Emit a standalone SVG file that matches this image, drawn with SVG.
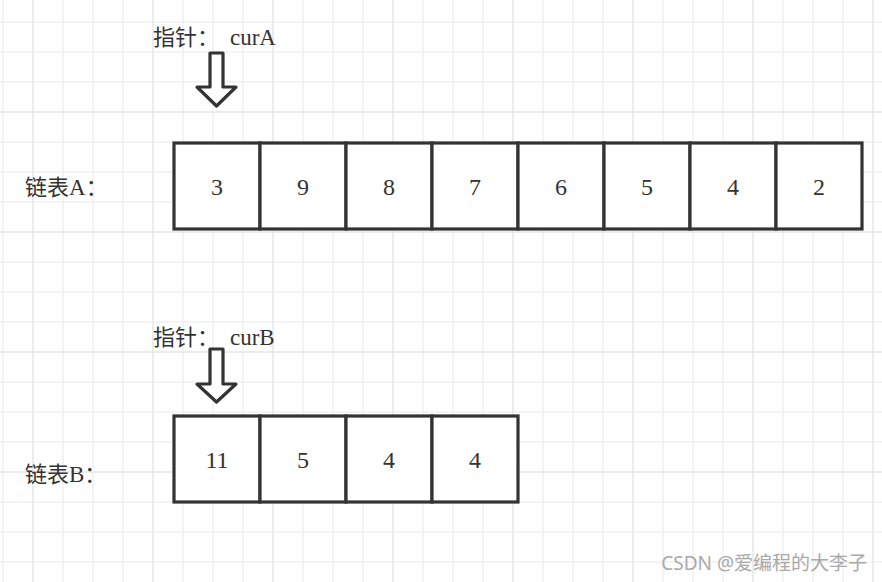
<svg xmlns="http://www.w3.org/2000/svg" width="882" height="582" viewBox="0 0 882 582">
<defs>
<style>
.minor{stroke:#f1f1f1;stroke-width:1.5;fill:none}
.major{stroke:#e6e6e6;stroke-width:1.5;fill:none}
.cell{fill:#ffffff;stroke:#333333;stroke-width:3.2;stroke-linejoin:miter}
.num{font-family:"Liberation Serif","Noto Sans CJK SC",serif;font-size:24px;fill:#333333;text-anchor:middle}
.lbl{font-family:"Liberation Serif","Noto Sans CJK SC",serif;font-size:22px;fill:#333333}
.lat{font-size:23px}
.arrow{fill:#ffffff;stroke:#333333;stroke-width:3.2;stroke-linejoin:round}
.wm{font-family:"Noto Sans","Noto Sans CJK SC",sans-serif;font-size:19px;fill:#a9a9a9;text-anchor:end}
</style>
</defs>
<rect x="0" y="0" width="882" height="582" fill="#ffffff"/>
<g id="grid">
<path class="minor" d="M3,0V582M63,0V582M93,0V582M123,0V582M183,0V582M213,0V582M243,0V582M303,0V582M333,0V582M363,0V582M423,0V582M453,0V582M483,0V582M543,0V582M573,0V582M603,0V582M663,0V582M693,0V582M723,0V582M783,0V582M813,0V582M843,0V582M0,22H882M0,52H882M0,82H882M0,142H882M0,172H882M0,202H882M0,262H882M0,292H882M0,322H882M0,382H882M0,412H882M0,442H882M0,502H882M0,532H882M0,562H882"/>
<path class="major" d="M33,0V582M153,0V582M273,0V582M393,0V582M513,0V582M633,0V582M753,0V582M873,0V582M0,112H882M0,232H882M0,352H882M0,472H882"/>
</g>
<g id="labelA"><text class="lbl" x="25" y="195">链表<tspan class="lat">A</tspan>：</text></g>
<g id="listA">
<g id="a0"><rect class="cell" x="174" y="143" width="86" height="86"/><text class="num" x="217" y="195">3</text></g>
<g id="a1"><rect class="cell" x="260" y="143" width="86" height="86"/><text class="num" x="303" y="195">9</text></g>
<g id="a2"><rect class="cell" x="346" y="143" width="86" height="86"/><text class="num" x="389" y="195">8</text></g>
<g id="a3"><rect class="cell" x="432" y="143" width="86" height="86"/><text class="num" x="475" y="195">7</text></g>
<g id="a4"><rect class="cell" x="518" y="143" width="86" height="86"/><text class="num" x="561" y="195">6</text></g>
<g id="a5"><rect class="cell" x="604" y="143" width="86" height="86"/><text class="num" x="647" y="195">5</text></g>
<g id="a6"><rect class="cell" x="690" y="143" width="86" height="86"/><text class="num" x="733" y="195">4</text></g>
<g id="a7"><rect class="cell" x="776" y="143" width="86" height="86"/><text class="num" x="819" y="195">2</text></g>
</g>
<g id="labelB"><text class="lbl" x="25" y="482">链表<tspan class="lat">B</tspan>：</text></g>
<g id="listB">
<g id="b0"><rect class="cell" x="174" y="416" width="86" height="86"/><text class="num" x="217" y="468">11</text></g>
<g id="b1"><rect class="cell" x="260" y="416" width="86" height="86"/><text class="num" x="303" y="468">5</text></g>
<g id="b2"><rect class="cell" x="346" y="416" width="86" height="86"/><text class="num" x="389" y="468">4</text></g>
<g id="b3"><rect class="cell" x="432" y="416" width="86" height="86"/><text class="num" x="475" y="468">4</text></g>
</g>
<g id="pointerA"><text class="lbl" x="153" y="45">指针：<tspan class="lat" x="230">curA</tspan></text></g>
<g id="pointerB"><text class="lbl" x="153" y="345">指针：<tspan class="lat" x="230">curB</tspan></text></g>
<g id="connectors">
<path class="arrow" d="M210,53H223V87H236L216.5,106L197,87H210Z"/>
<path class="arrow" d="M210,349H223V384H236L216.5,402L197,384H210Z"/>
</g>
<g id="watermark"><text class="wm" x="867" y="570">CSDN @爱编程的大李子</text></g>
</svg>
